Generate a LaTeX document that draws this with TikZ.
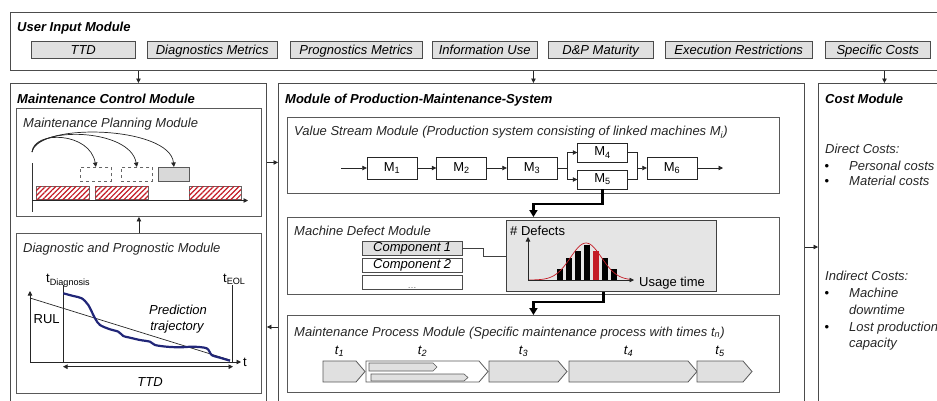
\documentclass[tikz,border=0pt]{standalone}
\usepackage{fontspec}
\setmainfont{Liberation Sans}
\usetikzlibrary{arrows.meta,patterns.meta}
\definecolor{curveblue}{RGB}{33,38,120}
\definecolor{defectred}{RGB}{196,28,38}
\newcommand\basefs{\fontsize{13}{15}\selectfont}

\begin{document}
\begin{tikzpicture}[x=1pt,y=-1pt,
    >={Triangle[length=4.5pt,width=4.5pt]},
    every node/.style={font=\basefs},
    module/.style={draw=black!70, line width=0.9pt, anchor=north west, inner sep=0},
    submodule/.style={draw=black!65, line width=0.9pt, anchor=north west, inner sep=0},
    title/.style={anchor=base west, inner sep=0, font=\basefs\bfseries\itshape},
    caption/.style={anchor=base west, inner sep=0, font=\basefs\itshape, text=black!85},
    input/.style={draw=black!70, fill=black!12, anchor=north west, inner sep=0, minimum height=17,
        text height=10.5, text depth=1.5, font=\basefs\itshape},
    machine/.style={draw=black!85, fill=white, minimum width=50, minimum height=22, inner sep=0},
    comp/.style={draw=black!70, anchor=north west, minimum width=100, minimum height=14, inner sep=0,
        font=\basefs\itshape},
    flow/.style={->, black!85, line width=0.7pt},
    bigflow/.style={-{Triangle[length=7pt,width=8pt]}, line width=2.4pt},
    task/.style={draw=black!65, line width=0.8pt},
    hatch/.style={draw=black!60, fill=white, line width=0.7pt,
        postaction={pattern={Lines[angle=45,distance=3.6pt,line width=1.2pt]}, pattern color=defectred}},
]
\useasboundingbox (0,0) rectangle (937,400);
\clip (0,0) rectangle (937,400);

% user input
\node[module, minimum width=945, minimum height=58] (input) at (10,12) {};
\node[title] at (17,31.5) {User Input Module};
\node[input, minimum width=104] (ttd) at (31,41) {TTD};
\node[input, minimum width=130] (diagm) at (147,41) {Diagnostics Metrics};
\node[input, minimum width=132] (progm) at (290,41) {Prognostics Metrics};
\node[input, minimum width=105] (info) at (432,41) {Information Use};
\node[input, minimum width=105] (mat) at (548,41) {D\&P Maturity};
\node[input, minimum width=147] (restr) at (665,41) {Execution Restrictions};
\node[input, minimum width=105] (spec) at (825,41) {Specific Costs};

% three main modules
\node[module, minimum width=256, minimum height=330] (control) at (10,83) {};
\node[title] at (17,103.5) {Maintenance Control Module};
\node[module, minimum width=526, minimum height=330] (prod) at (278,83) {};
\node[title] at (285,103) {Module of Production-Maintenance-System};
\node[module, minimum width=132, minimum height=330] (cost) at (818,83) {};
\node[title] at (825,103) {Cost Module};

% planning
\node[submodule, minimum width=245, minimum height=108] (plan) at (16,108) {};
\node[caption] at (23,127.7) {Maintenance Planning Module};
\draw[black!80, line width=0.8pt] (32,163) -- (32,212);
\draw[flow] (32,200.5) -- (248,200.5);
\foreach \a/\b in {36/89, 95/148, 189/241}
    \draw[hatch] (\a,186) rectangle (\b,199);
\node[draw=black!60, dashed, line width=0.8pt, anchor=north west, minimum width=31, minimum height=14, inner sep=0] (slot1) at (80,167) {};
\node[draw=black!60, dashed, line width=0.8pt, anchor=north west, minimum width=31, minimum height=14, inner sep=0] (slot2) at (121,167) {};
\node[draw=black!65, fill=black!15, line width=0.8pt, anchor=north west, minimum width=31, minimum height=14, inner sep=0] (job) at (158,167) {};
\coordinate (now) at (32,152);
\draw[flow] (now) .. controls (34,130) and (90,132) .. (slot1.north);
\draw[flow] (now) .. controls (36,126) and (130,128) .. (slot2.north);
\draw[flow] (now) .. controls (38,122) and (170,126) .. (job.north);

% diagnostics and prognostics
\node[submodule, minimum width=245, minimum height=160] (diag) at (16,233) {};
\node[caption] at (23,252.7) {Diagnostic and Prognostic Module};
\draw[flow] (30,362) -- (30,291);
\draw[flow] (30,362) -- (241,362);
\node[anchor=base west, inner sep=0] at (243,366) {t};
\draw[black!85, line width=0.7pt] (63,285) -- (63,362);
\draw[black!85, line width=0.7pt] (232,285) -- (232,362);
\node[anchor=base west, inner sep=0] at (46,282.7) {t\textsubscript{Diagnosis}};
\node[anchor=base west, inner sep=0] at (223,282.7) {t\textsubscript{EOL}};
\draw[black!85, line width=0.7pt] (30,298) -- (230,360);
\draw[curveblue, line width=2.2pt] plot[smooth, tension=0.5] coordinates {(63.3,293.3) (73.3,296) (81.7,298.3) (88.3,305)
    (95,318.3) (100,325) (110,329.3) (118.3,331.7) (123.3,336) (128.3,337.3) (140,340) (150,341.7) (155,345)
    (166.7,346.7) (180,347.3) (193.3,346.7) (206.7,348.3) (211.7,355) (220,357.7) (230,360.7)};
\node at (46.7,319.3) {RUL};
\node[font=\basefs\itshape] at (178,310) {Prediction};
\node[font=\basefs\itshape] at (177,327) {trajectory};
\draw[<->, black!85, line width=0.7pt] (63,366.7) -- (233,366.7);
\node[font=\basefs\itshape] at (150,381.7) {TTD};

% value stream
\node[submodule, minimum width=492, minimum height=76] (vs) at (287,117) {};
\node[caption] at (294,135.7) {Value Stream Module (Production system consisting of linked machines \textit{M}\textsubscript{\textit{i}})};
\node[machine] (m1) at (392,168) {M\textsubscript{1}};
\node[machine] (m2) at (461.5,168) {M\textsubscript{2}};
\node[machine] (m3) at (532,168) {M\textsubscript{3}};
\node[machine, minimum height=19] (m4) at (602.5,152.5) {M\textsubscript{4}};
\node[machine, minimum height=19] (m5) at (602.5,179.5) {M\textsubscript{5}};
\node[machine] (m6) at (672,168) {M\textsubscript{6}};
\coordinate (vsin) at (341,168);
\coordinate (split) at (567,168);
\coordinate (merge) at (637,168);
\coordinate (vsout) at (723,168);
\draw[flow] (vsin) -- (m1);
\draw[flow] (m1) -- (m2);
\draw[flow] (m2) -- (m3);
\draw[black!85, line width=0.7pt] (m3) -- (split);
\draw[flow] (split) |- (m4);
\draw[flow] (split) |- (m5);
\draw[black!85, line width=0.7pt] (m4) -| (merge);
\draw[black!85, line width=0.7pt] (m5) -| (merge);
\draw[flow] (merge) -- (m6);
\draw[flow] (m6) -- (vsout);

% machine defects
\node[submodule, minimum width=492, minimum height=77] (defect) at (287,217) {};
\node[caption] at (294,235.7) {Machine Defect Module};
\draw[bigflow] (m5.south) -- ++(0,15) -| (defect.north);
\node[comp, fill=black!12] (comp1) at (362,241) {Component 1};
\node[comp] (comp2) at (362,258) {Component 2};
\node[comp] (comp3) at (362,275) {};
\node[anchor=south, inner sep=1pt, font=\fontsize{9}{10}\selectfont, text=black!60] at (comp3.south) {\dots};
\node[draw=black!75, fill=black!10, line width=1.1pt, anchor=north west, minimum width=210, minimum height=71, inner sep=0] (chart) at (506,220) {};
\draw[black!75, line width=0.8pt] (comp1.east) -- ++(21,0) |- (chart.west);
\node[anchor=base west, inner sep=0] at (510,235) {\# Defects};
\node[anchor=base west, inner sep=0] at (639,286) {Usage time};
\foreach \i/\top/\c in {0/269/black, 1/258/black, 2/251/black, 3/245/black, 4/251/defectred, 5/258/black, 6/269/black}
    \fill[\c] ({557+9*\i},280) rectangle ({563+9*\i},\top);
\draw[defectred, line width=0.7pt, domain=528:632, samples=60] plot (\x, {280-37*exp(-((\x-586)/22)^2)});
\draw[flow] (528,280) -- (528,237);
\draw[flow] (528,280) -- (634,280);

% maintenance process
\node[submodule, minimum width=492, minimum height=77] (proc) at (287,315) {};
\node[caption] at (294,336) {Maintenance Process Module (Specific maintenance process with times \textit{t}\textsubscript{\textit{n}})};
\draw[bigflow] ([xshift=-8pt]chart.south) -- ++(0,10) -| (proc.north);
\foreach \a/\b/\n/\c in {323/365/1/black!12, 366/488/2/white, 489/567/3/black!12, 569/697/4/black!12, 697/752/5/black!12} {
    \draw[task, fill=\c] (\a,361) -- ({\b-9},361) -- (\b,371.5) -- ({\b-9},382) -- (\a,382) -- cycle;
    \node[anchor=base, inner sep=0, font=\basefs\itshape] at ({(\a+\b-9)/2},354) {t\textsubscript{\n}};
}
\draw[task, fill=black!12, line width=0.6pt] (369,363) -- (433,363) -- (437,367) -- (433,371) -- (369,371) -- cycle;
\draw[task, fill=black!12, line width=0.6pt] (371,374) -- (464,374) -- (468,377.5) -- (464,381) -- (371,381) -- cycle;

% costs
\node[caption] at (825,153) {Direct Costs:};
\node[anchor=base, inner sep=0] at (827,170.5) {\textbullet};
\node[caption] at (849,170.5) {Personal costs};
\node[anchor=base, inner sep=0] at (827,185.5) {\textbullet};
\node[caption] at (849,185.5) {Material costs};
\node[caption] at (825,280.5) {Indirect Costs:};
\node[anchor=base, inner sep=0] at (827,297.5) {\textbullet};
\node[caption] at (849,297.5) {Machine};
\node[caption] at (849,314.5) {downtime};
\node[anchor=base, inner sep=0] at (827,331.5) {\textbullet};
\node[caption] at (849,331.5) {Lost production};
\node[caption] at (849,347.5) {capacity};

% links between modules
\draw[flow] (input.south -| control.north) -- (control.north);
\draw[flow] (input.south -| vs.north) -- (prod.north -| vs.north);
\draw[flow] (input.south -| cost.north) -- (cost.north);
\draw[flow] (control.east |- plan.east) -- (prod.west |- plan.east);
\draw[flow] (prod.west |- 0,327) -- (control.east |- 0,327);
\draw[flow] (prod.east |- 0,247) -- (cost.west |- 0,247);
\draw[flow] (diag.north) -- (plan.south);
\end{tikzpicture}
\end{document}
